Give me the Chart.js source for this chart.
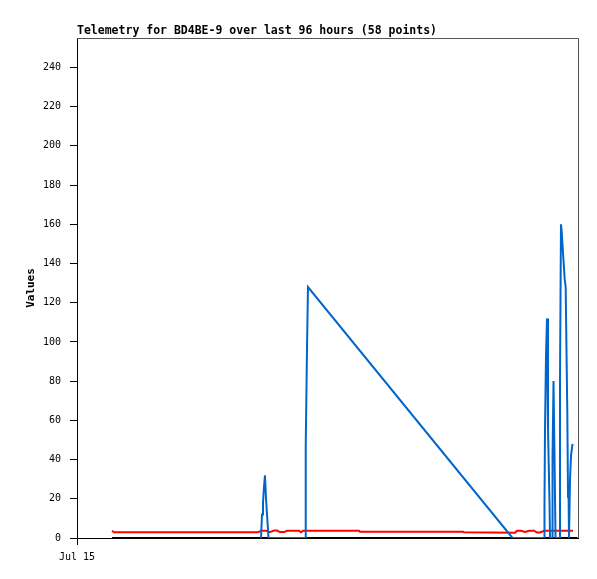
<!DOCTYPE html>
<html>
<head>
<meta charset="utf-8">
<script src="https://cdn.jsdelivr.net/npm/chart.js@4.4.1/dist/chart.umd.min.js"></script>
<style>
  body { margin: 0; background: #fff; }
  canvas { display: block; }
</style>
</head>
<body>
<canvas id="telemetryChart" width="597" height="579"></canvas>
<script>
// waktu dalam jam sejak awal jendela 96 jam (Jul 15)
const blueHours = [35.26, 35.45, 35.64, 35.83, 36.02, 36.22, 36.41, 36.70,
    43.69, 43.78, 43.88, 44.07, 44.26, 83.45,
    89.49, 89.58, 89.68, 89.87, 90.06, 90.25, 90.54, 90.64,
    91.02, 91.12, 91.31, 91.50, 91.69,
    92.46, 92.55, 92.74, 92.88, 93.07, 93.26, 93.45, 93.64, 93.74, 93.95, 94.09, 94.18, 94.28,
    94.47, 94.66, 94.95];
const blueValues = [0, 12, 18, 26, 32, 20, 12, 0,
    0, 16, 47, 96, 128, 0,
    0, 18, 56, 93, 112, 56, 18, 0,
    0, 41, 80, 41, 0,
    0, 80, 160, 156, 148, 140, 132, 128, 107, 64, 21, 25, 0,
    30, 42, 48];

const redHours = [6.71, 7.09, 34.68, 35.26, 36.22, 36.70, 36.98, 37.75, 38.32, 38.90, 39.67, 40.24,
    42.54, 42.92, 43.31, 54.04, 54.23, 73.97, 74.16, 83.93, 84.31, 85.08, 85.85, 86.61,
    87.57, 88.15, 88.72, 89.49, 95.04];
const redValues = [3.7, 2.9, 2.9, 3.7, 3.7, 3.0, 3.0, 3.8, 3.8, 3.0, 3.0, 3.7,
    3.7, 2.9, 3.7, 3.7, 3.2, 3.2, 2.9, 2.7, 3.7, 3.7, 3.1, 3.7,
    3.7, 2.8, 2.8, 3.7, 3.7];

const blackHours = [6.71, 95.9];
const blackValues = [0, 0];

const xTickLabels = ['Jul 15'];
const yTicks = [0, 20, 40, 60, 80, 100, 120, 140, 160, 180, 200, 220, 240];
const yMax = 255;

function toPoints(xs, ys) {
    return xs.map((x, i) => ({ x: x, y: ys[i] }));
}

// Judul dan bingkai abu-abu di atas/kanan
const framePlugin = {
    id: 'frame',
    afterDraw(chart) {
        const { ctx, chartArea: a } = chart;
        ctx.save();
        ctx.strokeStyle = '#555555';
        ctx.lineWidth = 1;
        ctx.beginPath();
        ctx.moveTo(a.left, a.top + 0.5);
        ctx.lineTo(a.right + 0.5, a.top + 0.5);
        ctx.lineTo(a.right + 0.5, a.bottom);
        ctx.stroke();
        ctx.fillStyle = '#000';
        ctx.font = 'bold 11.5px "DejaVu Sans Mono"';
        ctx.textAlign = 'left';
        ctx.textBaseline = 'alphabetic';
        ctx.fillText('Telemetry for BD4BE-9 over last 96 hours (58 points)', a.left, a.top - 4);
        ctx.restore();
    }
};

const ctx = document.getElementById('telemetryChart').getContext('2d');
new Chart(ctx, {
    type: 'line',
    data: {
        datasets: [
            {
                data: toPoints(blueHours, blueValues),
                borderColor: '#0066cc',
                borderWidth: 2,
                pointRadius: 0,
                tension: 0
            },
            {
                data: toPoints(redHours, redValues),
                borderColor: '#ff0000',
                borderWidth: 2,
                pointRadius: 0,
                tension: 0
            },
            {
                data: toPoints(blackHours, blackValues),
                borderColor: '#000000',
                borderWidth: 2,
                pointRadius: 0,
                tension: 0
            }
        ]
    },
    options: {
        responsive: false,
        animation: false,
        layout: { padding: { left: 25, top: 38, right: 19, bottom: 0 } },
        plugins: {
            legend: { display: false },
            tooltip: { enabled: false }
        },
        scales: {
            x: {
                type: 'linear',
                min: 0,
                max: 96,
                afterBuildTicks: (scale) => { scale.ticks = [{ value: 0 }]; },
                afterFit: (scale) => { scale.height = 41; },
                ticks: {
                    callback: (v, i) => xTickLabels[i],
                    color: '#000',
                    font: { family: 'DejaVu Sans Mono', size: 10 },
                    padding: 6,
                    maxRotation: 0,
                    autoSkip: false
                },
                grid: { drawOnChartArea: false, tickLength: 7, color: '#000' },
                border: { color: '#000', width: 1 }
            },
            y: {
                min: 0,
                max: yMax,
                afterBuildTicks: (scale) => { scale.ticks = yTicks.map(v => ({ value: v })); },
                afterFit: (scale) => { scale.width = 52; },
                ticks: {
                    color: '#000',
                    font: { family: 'DejaVu Sans Mono', size: 10 },
                    padding: 9
                },
                grid: { drawOnChartArea: false, tickLength: 7, color: '#000' },
                border: { color: '#000', width: 1 },
                title: {
                    display: true,
                    text: 'Values',
                    color: '#000',
                    font: { family: 'DejaVu Sans Mono', size: 11, weight: 'bold' },
                    padding: 0
                }
            }
        }
    },
    plugins: [framePlugin]
});
</script>
</body>
</html>
